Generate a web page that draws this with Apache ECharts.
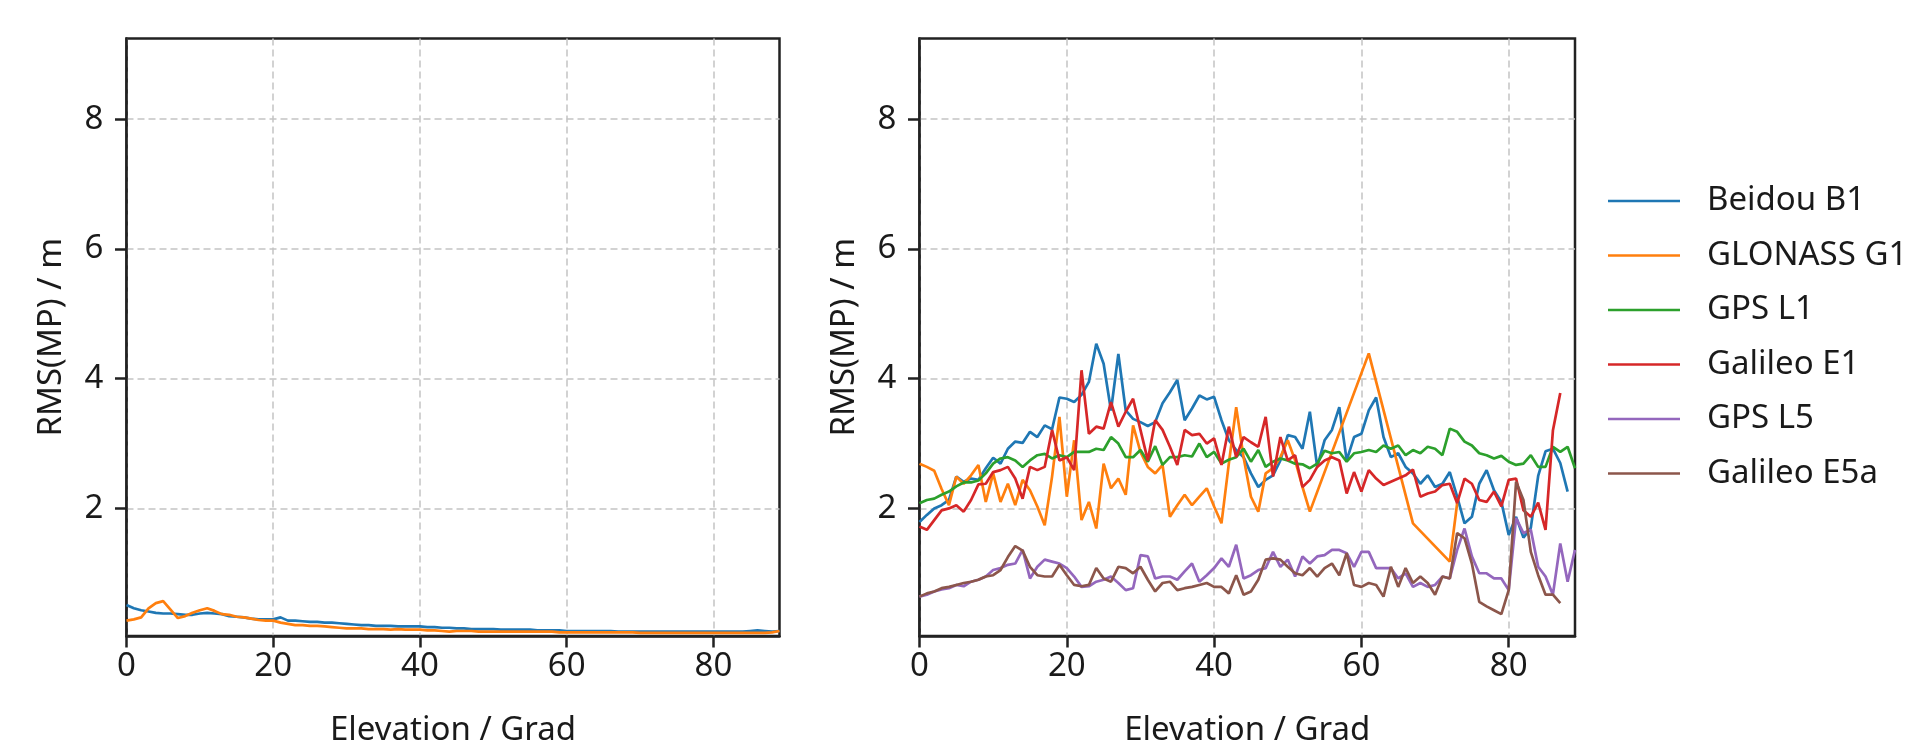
<!DOCTYPE html>
<html>
<head>
<meta charset="utf-8">
<script src="https://cdn.jsdelivr.net/npm/echarts@6/dist/echarts.min.js"></script>
<style>
  html, body { margin: 0; padding: 0; background: #fff; }
  #chart { width: 1907px; height: 743px; }
</style>
</head>
<body>
<div id="chart"></div>
<script>
// elevation bins (degrees)
const elev = [0,1,2,3,4,5,6,7,8,9,10,11,12,13,14,15,16,17,18,19,20,21,22,23,24,25,26,27,28,29,
  30,31,32,33,34,35,36,37,38,39,40,41,42,43,44,45,46,47,48,49,50,51,52,53,54,55,56,57,58,59,
  60,61,62,63,64,65,66,67,68,69,70,71,72,73,74,75,76,77,78,79,80,81,82,83,84,85,86,87,88,89]

const xTicks = [0, 20, 40, 60, 80]
const yTicks = [2, 4, 6, 8]
const names = ['Beidou B1', 'GLONASS G1', 'GPS L1', 'Galileo E1', 'GPS L5', 'Galileo E5a']
const colors = ['#1f77b4', '#ff7f0e', '#2ca02c', '#d62728', '#9467bd', '#8c564b']

// left panel
const leftBeidou = [0.51,0.46,0.43,0.41,0.39,0.38,0.38,0.37,0.36,0.36,0.38,0.39,0.38,0.37,0.34,0.33,0.32,0.30,0.29,0.29,
  0.29,0.32,0.27,0.27,0.26,0.25,0.25,0.24,0.24,0.23,0.22,0.21,0.20,0.20,0.19,0.19,0.19,0.18,0.18,0.18,
  0.18,0.17,0.17,0.16,0.16,0.15,0.15,0.14,0.14,0.14,0.14,0.13,0.13,0.13,0.13,0.13,0.12,0.12,0.12,0.12,
  0.11,0.11,0.11,0.11,0.11,0.11,0.11,0.10,0.10,0.10,0.10,0.10,0.10,0.10,0.10,0.10,0.10,0.10,0.10,0.10,
  0.10,0.10,0.10,0.10,0.10,0.11,0.12,0.11,0.10,0.11]
const leftGlonass = [0.27,0.29,0.32,0.46,0.54,0.57,0.44,0.31,0.34,0.39,0.43,0.46,0.42,0.37,0.36,0.33,0.32,0.30,0.28,0.27,
  0.27,0.24,0.22,0.20,0.20,0.19,0.19,0.18,0.17,0.16,0.15,0.15,0.15,0.14,0.14,0.14,0.13,0.14,0.13,0.13,
  0.13,0.12,0.12,0.11,0.10,0.11,0.11,0.11,0.10,0.10,0.10,0.10,0.10,0.10,0.10,0.10,0.10,0.10,0.10,0.09,
  0.09,0.09,0.09,0.09,0.09,0.09,0.09,0.09,0.09,0.09,0.08,0.08,0.08,0.08,0.08,0.08,0.08,0.08,0.08,0.08,
  0.08,0.08,0.08,0.08,0.08,0.08,0.08,0.08,0.09,0.11]

// right panel
const beidouB1 = [1.79,1.90,2.00,2.05,2.13,2.49,2.41,2.46,2.44,2.62,2.78,2.69,2.92,3.03,3.01,3.18,3.10,3.28,3.22,3.71,
  3.69,3.64,3.75,3.95,4.54,4.23,3.51,4.38,3.51,3.38,3.33,3.27,3.33,3.62,3.79,3.98,3.36,3.54,3.74,3.68,
  3.72,3.36,3.05,2.90,2.79,2.54,2.33,2.44,2.51,2.74,3.13,3.10,2.92,3.49,2.64,3.05,3.21,3.56,2.74,3.10,
  3.15,3.51,3.71,3.10,2.79,2.85,2.64,2.54,2.38,2.51,2.33,2.38,2.56,2.18,1.77,1.87,2.38,2.59,2.28,2.10,
  1.59,1.87,1.55,1.70,2.50,2.88,2.92,2.70,2.26]
const glonassElev = [0,1,2,3,4,5,6,7,8,9,10,11,12,13,14,15,16,17,18,19,20,21,22,23,24,25,26,27,28,29,
  30,31,32,33,34,35,36,37,38,39,40,41,42,43,44,45,46,47,48,49,50,51,52,53,61,67,72,73]
const glonassG1 = [2.69,2.64,2.58,2.30,2.05,2.49,2.38,2.51,2.67,2.10,2.54,2.10,2.38,2.05,2.44,2.28,2.03,1.74,2.49,3.41,
  2.18,3.05,1.82,2.10,1.69,2.69,2.31,2.46,2.21,3.28,2.87,2.64,2.54,2.67,1.87,2.05,2.21,2.05,2.18,2.31,
  2.03,1.77,2.69,3.56,2.79,2.18,1.95,2.54,2.62,2.79,3.05,2.74,2.33,1.95,4.39,1.77,1.18,2.08]
const gpsL1 = [2.08,2.13,2.15,2.21,2.26,2.34,2.40,2.40,2.43,2.54,2.69,2.77,2.79,2.74,2.64,2.74,2.82,2.84,2.77,2.82,
  2.79,2.87,2.87,2.87,2.92,2.90,3.10,3.00,2.79,2.79,2.90,2.72,2.96,2.67,2.79,2.79,2.82,2.80,3.00,2.79,
  2.87,2.69,2.75,2.79,2.92,2.72,2.90,2.64,2.72,2.77,2.74,2.69,2.68,2.62,2.69,2.89,2.85,2.87,2.72,2.85,
  2.87,2.90,2.87,2.97,2.92,2.97,2.82,2.90,2.85,2.95,2.92,2.82,3.23,3.18,3.03,2.97,2.85,2.82,2.77,2.81,
  2.72,2.67,2.69,2.82,2.64,2.64,2.95,2.87,2.95,2.62]
const galileoE1 = [1.72,1.67,1.82,1.97,2.00,2.05,1.95,2.13,2.37,2.38,2.56,2.59,2.64,2.46,2.15,2.64,2.59,2.64,3.21,2.74,
  2.79,2.59,4.13,3.15,3.26,3.23,3.64,3.26,3.49,3.69,3.21,2.74,3.36,3.21,2.95,2.67,3.21,3.13,3.15,3.00,
  3.08,2.67,3.26,2.79,3.10,3.02,2.95,3.41,2.49,3.10,2.74,2.82,2.33,2.44,2.64,2.74,2.79,2.74,2.23,2.56,
  2.26,2.59,2.46,2.36,2.41,2.46,2.51,2.60,2.18,2.23,2.26,2.36,2.38,2.08,2.46,2.38,2.13,2.10,2.26,2.03,
  2.44,2.46,1.97,1.87,2.09,1.67,3.20,3.78]
const gpsL5 = [0.64,0.67,0.72,0.75,0.77,0.82,0.80,0.87,0.90,0.95,1.05,1.08,1.13,1.15,1.36,0.92,1.10,1.21,1.18,1.15,
  1.08,0.95,0.79,0.80,0.87,0.90,0.95,0.85,0.74,0.77,1.28,1.26,0.92,0.95,0.95,0.90,1.03,1.15,0.87,0.97,
  1.08,1.23,1.10,1.44,0.92,0.97,1.05,1.08,1.33,1.10,1.21,0.95,1.26,1.15,1.26,1.28,1.36,1.36,1.31,1.10,
  1.33,1.33,1.08,1.08,1.08,0.92,1.00,0.79,0.85,0.79,0.82,0.95,0.92,1.36,1.69,1.26,1.00,1.00,0.92,0.92,
  0.74,1.85,1.62,1.67,1.10,0.95,0.67,1.46,0.87,1.36]
const galileoE5a = [0.64,0.69,0.72,0.77,0.79,0.82,0.85,0.87,0.90,0.95,0.97,1.05,1.25,1.42,1.35,1.10,0.97,0.95,0.95,1.13,
  0.97,0.82,0.80,0.82,1.08,0.92,0.87,1.10,1.08,1.00,1.10,0.90,0.72,0.85,0.87,0.74,0.77,0.79,0.82,0.85,
  0.79,0.79,0.69,0.97,0.67,0.72,0.90,1.21,1.23,1.21,1.10,1.00,0.97,1.08,0.95,1.08,1.15,0.97,1.31,0.82,
  0.79,0.85,0.82,0.64,1.10,0.79,1.08,0.85,0.95,0.85,0.67,0.95,0.92,1.62,1.54,1.15,0.56,0.49,0.43,0.37,
  0.74,2.41,2.13,1.33,0.97,0.67,0.67,0.54]

const FONT = 'Noto Sans'
const TEXT = '#1a1a1a'
const FRAME = '#222'

function pairs(xs, ys) {
  return ys.map((y, i) => [xs[i], y])
}

function xAxisFor(gridIndex) {
  return {
    type: 'value', gridIndex: gridIndex, min: 0, max: 89,
    name: 'Elevation / Grad', nameLocation: 'middle', nameGap: 78,
    nameTextStyle: { fontSize: 33, fontFamily: FONT, color: TEXT },
    axisLine: { show: true, lineStyle: { color: FRAME, width: 2.5 } },
    axisTick: { show: true, length: 11.5, customValues: xTicks, lineStyle: { color: FRAME, width: 2.5 } },
    axisLabel: { customValues: xTicks, margin: 14, fontSize: 33, fontFamily: FONT, color: TEXT },
    splitLine: { show: true, lineStyle: { color: '#c4c4c4', width: 1.5, type: [7, 4] } }
  }
}

function yAxisFor(gridIndex) {
  return {
    type: 'value', gridIndex: gridIndex, min: 0.033, max: 9.244,
    name: 'RMS(MP) / m', nameLocation: 'middle', nameGap: 58,
    nameTextStyle: { fontSize: 33, fontFamily: FONT, color: TEXT },
    axisLine: { show: true, lineStyle: { color: FRAME, width: 2.5 } },
    axisTick: { show: true, length: 11.5, customValues: yTicks, lineStyle: { color: FRAME, width: 2.5 } },
    axisLabel: { customValues: yTicks, margin: 23, fontSize: 33, fontFamily: FONT, color: TEXT },
    splitLine: { show: true, lineStyle: { color: '#c4c4c4', width: 1.5, type: [7, 4] } }
  }
}

function line(name, data, idx, color) {
  return {
    name: name, type: 'line', data: data,
    xAxisIndex: idx, yAxisIndex: idx,
    showSymbol: false, symbol: 'none',
    lineStyle: { color: color, width: 2.7 },
    itemStyle: { color: color },
    animation: false
  }
}

const chart = echarts.init(document.getElementById('chart'))
chart.setOption({
  backgroundColor: '#fff',
  animation: false,
  grid: [
    { left: 126.5, top: 38.5, width: 653, height: 597.5, outerBoundsMode: 'none', containLabel: false,
      show: true, borderColor: FRAME, borderWidth: 2.5, backgroundColor: 'transparent' },
    { left: 919.5, top: 38.5, width: 655.5, height: 597.5, outerBoundsMode: 'none', containLabel: false,
      show: true, borderColor: FRAME, borderWidth: 2.5, backgroundColor: 'transparent' }
  ],
  xAxis: [xAxisFor(0), xAxisFor(1)],
  yAxis: [yAxisFor(0), yAxisFor(1)],
  legend: {
    data: names,
    orient: 'vertical',
    left: 1603, top: 176,
    icon: 'rect',
    itemWidth: 72, itemHeight: 2.7, itemGap: 14.5,
    textStyle: { fontSize: 33, fontFamily: FONT, color: TEXT, lineHeight: 40, padding: [0, 0, 0, 22] }
  },
  series: [
    line('Beidou B1', pairs(elev, leftBeidou), 0, colors[0]),
    line('GLONASS G1', pairs(elev, leftGlonass), 0, colors[1]),
    line('Beidou B1', pairs(elev, beidouB1), 1, colors[0]),
    line('GLONASS G1', pairs(glonassElev, glonassG1), 1, colors[1]),
    line('GPS L1', pairs(elev, gpsL1), 1, colors[2]),
    line('Galileo E1', pairs(elev, galileoE1), 1, colors[3]),
    line('GPS L5', pairs(elev, gpsL5), 1, colors[4]),
    line('Galileo E5a', pairs(elev, galileoE5a), 1, colors[5])
  ]
})
</script>
</body>
</html>
